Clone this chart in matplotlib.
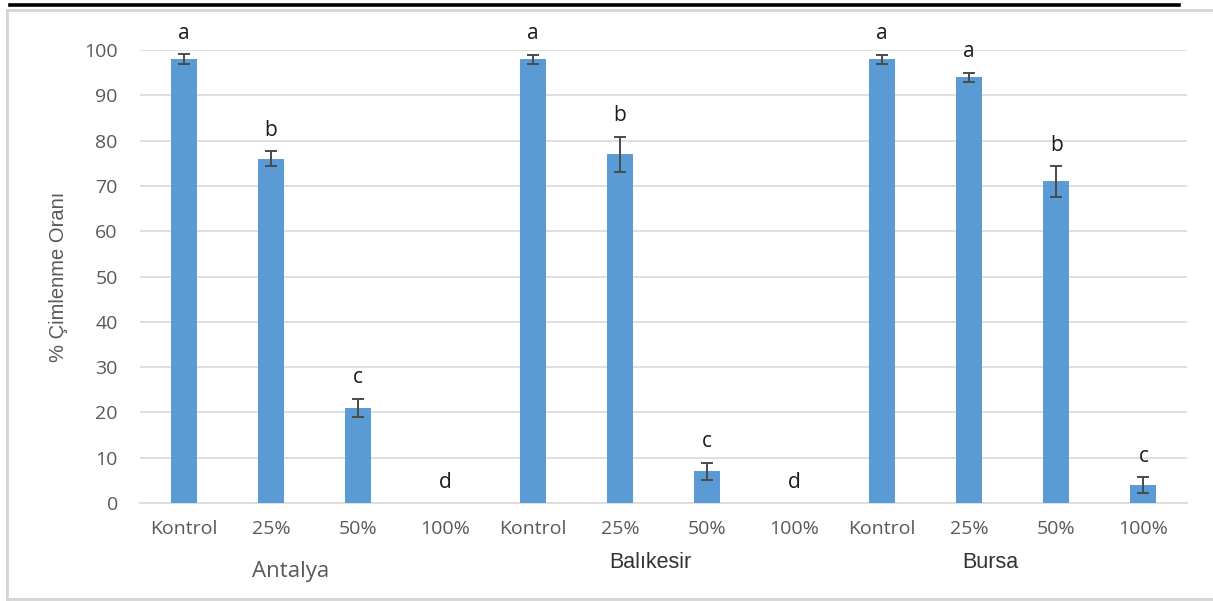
import matplotlib
matplotlib.use("Agg")
import matplotlib.pyplot as plt
from matplotlib.lines import Line2D
import numpy as np

# Germination data (%), mean and error per treatment
treatments = ["Kontrol", "25%", "50%", "100%"]
locations = ["Antalya", "Balıkesir", "Bursa"]

antalya_mean = [98, 76, 21, 0]
antalya_err = [1.1, 1.6, 2.0, 0]
balikesir_mean = [98, 77, 7, 0]
balikesir_err = [1.0, 3.9, 1.9, 0]
bursa_mean = [98, 94, 71, 4]
bursa_err = [1.0, 1.0, 3.4, 1.7]

antalya_letters = ["a", "b", "c", "d"]
balikesir_letters = ["a", "b", "c", "d"]
bursa_letters = ["a", "a", "b", "c"]

yticks = [0, 10, 20, 30, 40, 50, 60, 70, 80, 90, 100]

means = np.array(antalya_mean + balikesir_mean + bursa_mean, dtype=float)
errs = np.array(antalya_err + balikesir_err + bursa_err, dtype=float)
letters = antalya_letters + balikesir_letters + bursa_letters
xlabels = treatments * len(locations)

W, H = 1213, 601
AX_L, AX_R, AX_T, AX_B = 140, 1187, 50, 503
fig = plt.figure(figsize=(W / 100, H / 100), dpi=100)
fig.patch.set_facecolor("white")

ax = fig.add_axes([AX_L / W, 1 - AX_B / H, (AX_R - AX_L) / W, (AX_B - AX_T) / H])
x = np.arange(len(means))
ax.bar(x, means, width=0.3, color="#5B9BD5", edgecolor="none", zorder=3)

has_err = errs > 0
ax.errorbar(x[has_err], means[has_err], yerr=errs[has_err], fmt="none",
            ecolor="#4a4a4a", elinewidth=1.4, capsize=4, capthick=1.4, zorder=4)

for xi, m, e, lab in zip(x, means, errs, letters):
    ax.text(xi, m + e + 4.6, lab, ha="center", va="center", fontsize=15,
            color="#1a1a1a", family=["Open Sans", "DejaVu Sans"], zorder=5)

ax.set_xlim(-0.5, len(means) - 0.5)
ax.set_ylim(0, 100)
ax.set_yticks(yticks)
ax.set_yticklabels([str(t) for t in yticks], family="Open Sans", fontsize=14, color="#595959")
ax.set_xticks(x)
ax.set_xticklabels(xlabels, family="Open Sans", fontsize=14, color="#595959")
ax.tick_params(axis="both", length=0)
ax.tick_params(axis="y", pad=16)
ax.tick_params(axis="x", pad=12)
ax.grid(axis="y", color="#d9d9d9", linewidth=1.2, zorder=0)
ax.set_axisbelow(True)
for side in ["top", "right", "left"]:
    ax.spines[side].set_visible(False)
ax.spines["bottom"].set_color("#d9d9d9")
ax.spines["bottom"].set_linewidth(1.2)

ax.set_ylabel("% Çimlenme Oranı",
              family=["Liberation Sans Narrow", "Liberation Sans", "DejaVu Sans"],
              fontsize=14.5, color="#595959")
ax.yaxis.set_label_coords((68 - AX_L) / (AX_R - AX_L), 0.5)

def ax_frac(xp, yp):
    return (xp - AX_L) / (AX_R - AX_L), (AX_B - yp) / (AX_B - AX_T)

# Location labels below the treatment names
ax.text(*ax_frac(291, 572), locations[0], transform=ax.transAxes, ha="center",
        va="center", fontsize=16, color="#595959", family="Open Sans")
ax.text(*ax_frac(650, 562), locations[1], transform=ax.transAxes, ha="center",
        va="center", fontsize=15.5, color="#333333",
        family=["Liberation Sans Narrow", "Liberation Sans", "DejaVu Sans"])
ax.text(*ax_frac(990, 562), locations[2], transform=ax.transAxes, ha="center",
        va="center", fontsize=15.5, color="#333333",
        family=["Liberation Sans Narrow", "Liberation Sans", "DejaVu Sans"])

# Frame around the chart and the heavy rule above it
frame = dict(color="#d4d4d4", linewidth=2)
fig.add_artist(Line2D([7 / W, 1.0], [1 - 9.5 / H] * 2, **frame))
fig.add_artist(Line2D([7 / W, 1.0], [1 - 599 / H] * 2, **frame))
fig.add_artist(Line2D([7 / W] * 2, [1 - 9.5 / H, 1 - 599 / H], **frame))
fig.add_artist(Line2D([10 / W, 1179 / W], [1 - 4.5 / H] * 2, color="black", linewidth=2.6))

fig.savefig("out.png", dpi=100, facecolor="white")
